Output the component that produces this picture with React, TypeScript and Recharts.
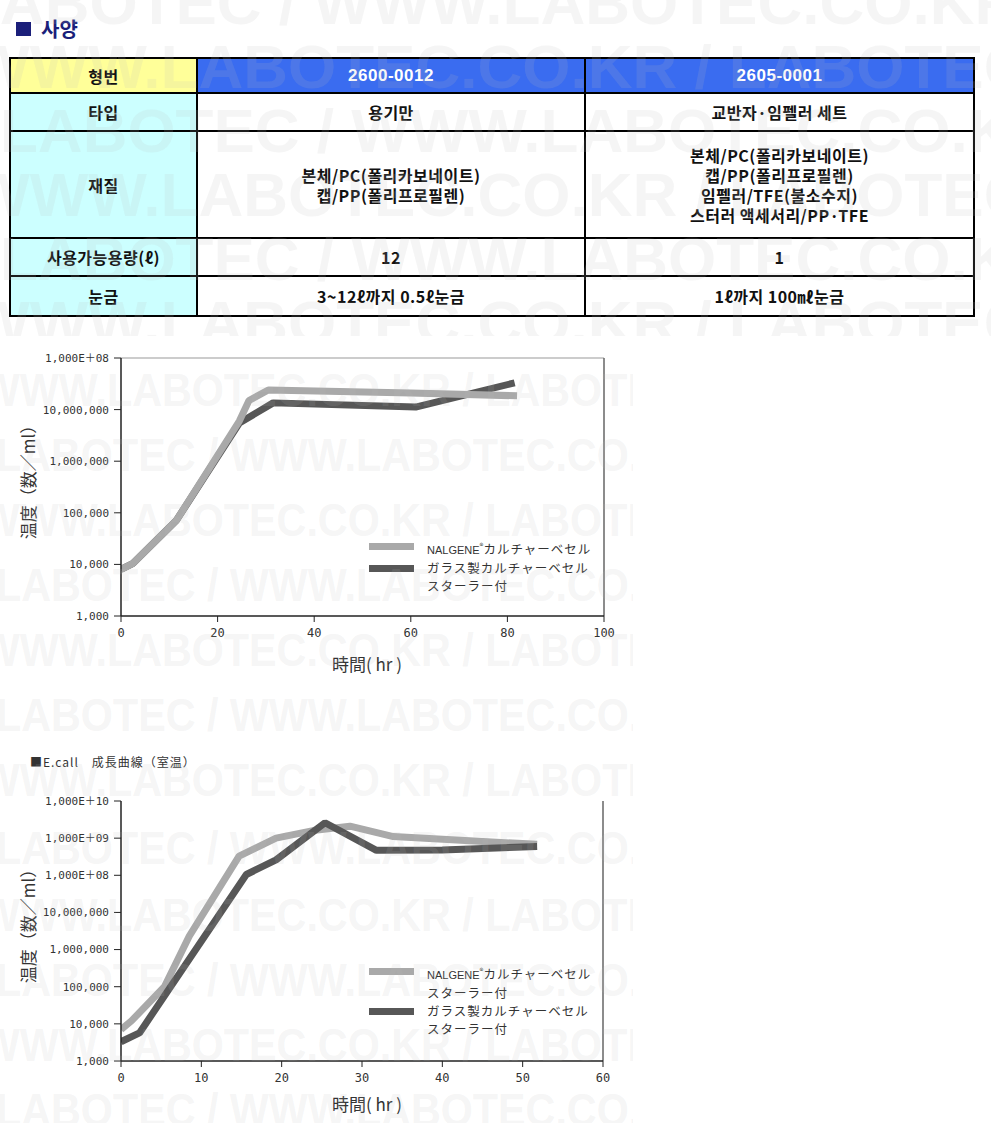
import React from "react";
import { LineChart, Line, XAxis, YAxis, ReferenceLine } from "recharts";

// spec table
const specRowLabels = ["타입", "재질", "사용가능용량(ℓ)", "눈금"];
const modelNumbers = ["2600-0012", "2605-0001"];
const specTypes = ["용기만", "교반자·임펠러 세트"];
const specMaterials = [
  ["본체/PC(폴리카보네이트)", "캡/PP(폴리프로필렌)"],
  ["본체/PC(폴리카보네이트)", "캡/PP(폴리프로필렌)", "임펠러/TFE(불소수지)", "스터러 액세서리/PP·TFE"],
];
const specCapacities = ["12", "1"];
const specScales = ["3~12ℓ까지 0.5ℓ눈금", "1ℓ까지 100㎖눈금"];

// chart 1
const hours1Nalgene = [0, 2.5, 11.5, 24.5, 26.5, 30.5, 60, 82];
const cells1Nalgene = [8000, 10500, 72000, 6000000, 15000000, 24000000, 21000000, 18500000];
const hours1Glass = [0, 2.5, 11.5, 24.5, 31.5, 61, 81.5];
const cells1Glass = [8000, 10500, 72000, 5500000, 13500000, 11200000, 33000000];
const xTicks1 = [0, 20, 40, 60, 80, 100];
const yTicks1 = [1e3, 1e4, 1e5, 1e6, 1e7, 1e8];
const yLabels1 = ["1,000", "10,000", "100,000", "1,000,000", "10,000,000", "1,000E＋08"];

// chart 2 (E.coli, room temperature)
const hours2Nalgene = [0, 1.3, 5.4, 8.5, 14.7, 19.3, 23.9, 28.5, 33.9, 51.8];
const cells2Nalgene = [7000, 12000, 100000, 2300000, 330000000, 1000000000, 1600000000, 2100000000, 1100000000, 680000000];
const hours2Glass = [0, 2.3, 15.6, 19.3, 25.4, 31.8, 40, 51.8];
const cells2Glass = [3300, 5700, 105000000, 260000000, 2600000000, 470000000, 480000000, 600000000];
const xTicks2 = [0, 10, 20, 30, 40, 50, 60];
const yTicks2 = [1e3, 1e4, 1e5, 1e6, 1e7, 1e8, 1e9, 1e10];
const yLabels2 = ["1,000", "10,000", "100,000", "1,000,000", "10,000,000", "1,000E＋08", "1,000E＋09", "1,000E＋10"];

const legendNames = ["NALGENE®カルチャーベセル", "ガラス製カルチャーベセル"];
const stirrerNote = "スターラー付";

const LIGHT = "#a9a9a9";
const DARK = "#575757";
const JP = "'Noto Sans CJK JP', 'Noto Sans', sans-serif";
const KR = "'Noto Sans CJK KR', 'Noto Sans', sans-serif";
const MONO = "'DejaVu Sans Mono', 'Noto Sans CJK JP', monospace";

const toPoints = (hours: number[], cells: number[]) =>
  hours.map((h, i) => ({ hour: h, cells: cells[i] }));

type Series = { data: { hour: number; cells: number }[]; color: string };
type LegendEntry = { name: string; color: string; note: boolean };

function LegendName({ name }: { name: string }) {
  if (!name.includes("®")) return <span>{name}</span>;
  const [brand, rest] = name.split("®");
  return (
    <span>
      <span style={{ fontFamily: "'Liberation Sans Narrow', 'Liberation Sans', sans-serif", fontSize: 11, letterSpacing: 0 }}>
        {brand}
      </span>
      <sup style={{ fontSize: 8, letterSpacing: 0 }}>®</sup>
      {rest}
    </span>
  );
}

function GrowthChart(props: {
  top: number;
  xMax: number;
  xTicks: number[];
  yTicks: number[];
  yLabels: string[];
  plotHeight: number;
  rightMargin: number;
  series: Series[];
  legend: LegendEntry[];
  legendTop: number;
  topTicks: boolean;
  yTitleTop: number;
  xTitleTop: number;
}) {
  const { xMax, xTicks, yTicks, yLabels } = props;
  const yMin = yTicks[0];
  const yMax = yTicks[yTicks.length - 1];
  return (
    <div style={{ position: "absolute", left: 0, top: props.top, width: 640, height: 340 }}>
      <LineChart
        width={640}
        height={340}
        margin={{ top: 18, right: props.rightMargin, left: 0, bottom: 0 }}
      >
        <XAxis
          type="number"
          dataKey="hour"
          domain={[0, xMax]}
          ticks={xTicks}
          allowDataOverflow
          height={340 - 18 - props.plotHeight}
          tickSize={6}
          tickMargin={6}
          axisLine={{ stroke: "#222", strokeWidth: 1.5 }}
          tickLine={{ stroke: "#222" }}
          tick={{ fontSize: 12, fill: "#333", fontFamily: MONO }}
        />
        {props.topTicks && (
          <XAxis
            xAxisId="top"
            orientation="top"
            type="number"
            domain={[0, xMax]}
            ticks={xTicks}
            allowDataOverflow
            height={0}
            mirror
            tickSize={3}
            axisLine={{ stroke: "#888", strokeWidth: 1.5 }}
            tickLine={{ stroke: "#222", strokeWidth: 2 }}
            tick={() => <g />}
          />
        )}
        <YAxis
          type="number"
          scale="log"
          domain={[yMin, yMax]}
          ticks={yTicks}
          allowDataOverflow
          width={121}
          tickSize={7}
          tickMargin={5}
          axisLine={{ stroke: "#222", strokeWidth: 1.5 }}
          tickLine={{ stroke: "#222" }}
          tick={{ fontSize: 11, fill: "#333", fontFamily: MONO }}
          tickFormatter={(v: number) => yLabels[yTicks.indexOf(v)] ?? ""}
        />
        {!props.topTicks && <ReferenceLine y={yMax} stroke="#999" strokeWidth={1} />}
        <ReferenceLine x={xMax} stroke="#666" strokeWidth={1.5} />
        {props.series.map((s, i) => (
          <Line
            key={i}
            data={s.data}
            dataKey="cells"
            type="linear"
            stroke={s.color}
            strokeWidth={7}
            strokeLinejoin="bevel"
            strokeLinecap="butt"
            dot={false}
            activeDot={false}
            isAnimationActive={false}
          />
        ))}
      </LineChart>

      <div
        style={{
          position: "absolute",
          left: 27,
          top: props.yTitleTop,
          transform: "translate(-50%, -50%) rotate(-90deg)",
          fontFamily: JP,
          fontSize: 17,
          color: "#333",
          whiteSpace: "nowrap",
          lineHeight: 1,
        }}
      >
        温度（数／ml）
      </div>
      <div
        style={{
          position: "absolute",
          left: 367,
          top: props.xTitleTop,
          transform: "translate(-50%, -50%)",
          fontFamily: JP,
          fontSize: 17,
          color: "#333",
          whiteSpace: "nowrap",
          lineHeight: 1,
        }}
      >
        時間( hr )
      </div>

      <div style={{ position: "absolute", left: 369, top: props.legendTop, fontFamily: JP, fontSize: 12.5, color: "#333", letterSpacing: 1 }}>
        {props.legend.map((entry, i) => (
          <div key={i} style={{ position: "relative", paddingLeft: 58, lineHeight: "18px" }}>
            <div style={{ position: "absolute", left: 0, top: 6, width: 45, height: 7, background: entry.color }} />
            <div style={{ whiteSpace: "nowrap" }}>
              <LegendName name={entry.name} />
            </div>
            {entry.note && <div style={{ whiteSpace: "nowrap" }}>{stirrerNote}</div>}
          </div>
        ))}
      </div>
    </div>
  );
}

function Watermark() {
  const tableRows = [2, 66, 130, 194, 258, 322];
  const chartRows = [390, 455, 520, 585, 650, 715, 780, 848, 915, 980, 1045, 1110];
  const long = "LABOTEC / WWW.LABOTEC.CO.KR / LABOTEC / WWW.LABOTEC.CO.KR";
  const shiftW = 10; // chars in "LABOTEC / "
  return (
    <svg
      width={991}
      height={1123}
      style={{ position: "absolute", left: 0, top: 0, pointerEvents: "none" }}
    >
      <defs>
        <clipPath id="wmTable">
          <rect x={0} y={0} width={991} height={336} />
        </clipPath>
        <clipPath id="wmChart">
          <rect x={0} y={336} width={633} height={787} />
        </clipPath>
      </defs>
      <g clipPath="url(#wmTable)" fill="#bdbdbd" fillOpacity={0.15} fontFamily="'Liberation Sans', Arial, sans-serif" fontWeight="bold" fontSize={62}>
        {tableRows.map((y, i) => {
          const cw = 38;
          const offset = i === 0 ? -cw : i % 2 === 1 ? -shiftW * cw : 0;
          return (
            <text key={i} x={offset} y={y + 22} textLength={long.length * cw} lengthAdjust="spacingAndGlyphs">
              {long}
            </text>
          );
        })}
      </g>
      <g clipPath="url(#wmChart)" fill="#bdbdbd" fillOpacity={0.15} fontFamily="'Liberation Sans', Arial, sans-serif" fontWeight="bold" fontSize={46}>
        {chartRows.map((y, i) => {
          const cw = 25.3;
          const offset = i % 2 === 0 ? -shiftW * cw : -4;
          return (
            <text key={i} x={offset} y={y + 16} textLength={long.length * cw} lengthAdjust="spacingAndGlyphs">
              {long}
            </text>
          );
        })}
      </g>
    </svg>
  );
}

const labelCell: React.CSSProperties = {
  background: "#ccffff",
  border: "2px solid #000",
  textAlign: "center",
  fontWeight: "bold",
  padding: 0,
};
const valueCell: React.CSSProperties = {
  background: "#fff",
  border: "2px solid #000",
  textAlign: "center",
  fontWeight: "bold",
  padding: 0,
};

export default function App() {
  const rowHeights = [38, 107, 38, 40];
  const valueRows: React.ReactNode[][] = [
    specTypes,
    specMaterials.map((lines) => lines.map((l, i) => <div key={i}>{l}</div>)),
    specCapacities,
    specScales,
  ];
  return (
    <div
      style={{
        position: "absolute",
        left: 0,
        top: 0,
        width: 991,
        height: 1123,
        background: "#fff",
        overflow: "hidden",
        fontFamily: KR,
      }}
    >
      <div style={{ position: "absolute", left: 16, top: 22, width: 15, height: 14, background: "#1b1f7a" }} />
      <div style={{ position: "absolute", left: 41, top: 16, fontSize: 20, fontWeight: "bold", color: "#1b1f7a", lineHeight: "26px" }}>
        사양
      </div>

      <table
        style={{
          position: "absolute",
          left: 9,
          top: 57,
          width: 964,
          borderCollapse: "collapse",
          tableLayout: "fixed",
          fontSize: 16,
          color: "#111",
          letterSpacing: 0.5,
        }}
      >
        <colgroup>
          <col style={{ width: 187 }} />
          <col style={{ width: 388 }} />
          <col style={{ width: 389 }} />
        </colgroup>
        <tbody>
          <tr style={{ height: 35 }}>
            <td style={{ ...labelCell, background: "#ffff99" }}>형번</td>
            {modelNumbers.map((m) => (
              <td
                key={m}
                style={{ ...valueCell, background: "#3a6cf0", color: "#fff", fontFamily: "'Liberation Sans', Arial, sans-serif", fontSize: 17 }}
              >
                {m}
              </td>
            ))}
          </tr>
          {specRowLabels.map((label, r) => (
            <tr key={label} style={{ height: rowHeights[r] }}>
              <td style={labelCell}>{label}</td>
              {valueRows[r].map((v, c) => (
                <td key={c} style={{ ...valueCell, lineHeight: "20px" }}>
                  {v}
                </td>
              ))}
            </tr>
          ))}
        </tbody>
      </table>

      <GrowthChart
        top={340}
        xMax={100}
        xTicks={xTicks1}
        yTicks={yTicks1}
        yLabels={yLabels1}
        plotHeight={258}
        rightMargin={36}
        series={[
          { data: toPoints(hours1Glass, cells1Glass), color: DARK },
          { data: toPoints(hours1Nalgene, cells1Nalgene), color: LIGHT },
        ]}
        legend={[
          { name: legendNames[0], color: LIGHT, note: false },
          { name: legendNames[1], color: DARK, note: true },
        ]}
        legendTop={197}
        topTicks={false}
        yTitleTop={138}
        xTitleTop={323}
      />

      <div
        style={{
          position: "absolute",
          left: 30,
          top: 754,
          fontFamily: JP,
          fontSize: 12,
          color: "#333",
          letterSpacing: 1,
          whiteSpace: "nowrap",
          lineHeight: "16px",
        }}
      >
        ■E.call　成長曲線（室温）
      </div>

      <GrowthChart
        top={783}
        xMax={60}
        xTicks={xTicks2}
        yTicks={yTicks2}
        yLabels={yLabels2}
        plotHeight={260}
        rightMargin={37}
        series={[
          { data: toPoints(hours2Nalgene, cells2Nalgene), color: LIGHT },
          { data: toPoints(hours2Glass, cells2Glass), color: DARK },
        ]}
        legend={[
          { name: legendNames[0], color: LIGHT, note: true },
          { name: legendNames[1], color: DARK, note: true },
        ]}
        legendTop={179}
        topTicks={true}
        yTitleTop={139}
        xTitleTop={320}
      />

      <Watermark />
    </div>
  );
}
